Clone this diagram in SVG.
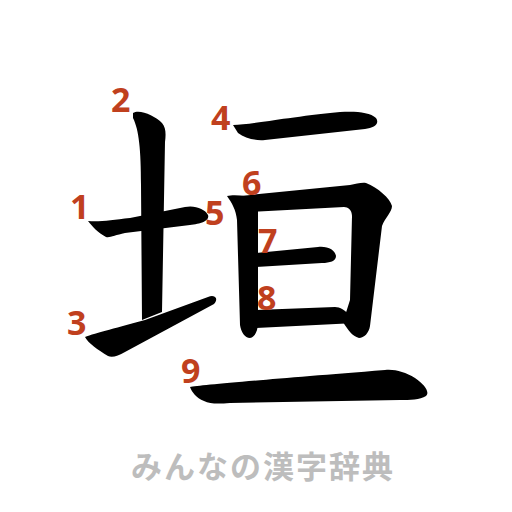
<svg xmlns="http://www.w3.org/2000/svg" width="512" height="512" viewBox="0 0 512 512">
<style>
.s{fill:#000}
.n{font-family:"Noto Sans","Open Sans","DejaVu Sans",sans-serif;font-weight:700;font-size:34px;fill:#c0401e}
.f{font-family:"Noto Sans CJK JP","Noto Sans",sans-serif;font-weight:700;font-size:31px;fill:#bdbdbd;letter-spacing:2px}
</style>
<rect width="512" height="512" fill="#fff"/>
<g id="strokes">
<path id="s1" class="s" d="M88,221 C100,222 112,220 130,218 L185,207 C195,205 205,209 208,215 C210,221 200,224 190,225 L125,233 C115,235 110,238 106,237 C98,233 92,226 88,221 Z"/>
<path id="s2" class="s" d="M133,113 C140,109 155,116 162,123 C166,128 166,134 165,142 L162,312 L142,320 L141,185 C141,150 139,130 133,118 Z"/>
<path id="s3" class="s" d="M85,337 C95,333 120,327 145,320 L208,297 C215,294 219,299 214,304 L125,352 C118,356 112,358 108,356 C98,350 88,343 85,337 Z"/>
<path id="s4" class="s" d="M233,125 C250,125 280,118 340,112 C355,111 370,112 376,118 C380,124 374,128 365,129 L265,140 C255,141 245,138 238,133 Z"/>
<path id="s5" class="s" d="M227,196 C235,194 250,196 258,200 L258,322 C258,331 255,337 250,338 C245,338 241,332 240,325 L237,220 C236,210 232,203 227,196 Z"/>
<path id="s6" class="s" d="M240,196 L350,185 C356,184 362,182 366,183 C378,188 390,198 392,206 C392,212 385,218 382,226 L370,326 C369,333 364,338 359,338 C352,336 348,330 343,322 L350,300 L352,216 C352,210 348,207 344,207 L250,212 Z"/>
<path id="s7" class="s" d="M256,253 L318,247 C328,246 335,250 336,256 C336,261 330,263 322,263 L256,267 Z"/>
<path id="s8" class="s" d="M256,310 L335,307 C340,307 345,310 350,316 L356,323 L256,328 Z"/>
<path id="s9" class="s" d="M190,387 C200,385 260,380 385,370 C395,369 405,372 415,378 C425,385 430,392 426,396 C420,400 410,400 400,400 L230,403 C218,404 210,404 204,401 C196,398 192,392 190,387 Z"/>
</g>
<g id="numbers">
<text class="n" x="70" y="219">1</text>
<text class="n" x="111" y="112">2</text>
<text class="n" x="67" y="335">3</text>
<text class="n" x="211" y="130">4</text>
<text class="n" x="205" y="225">5</text>
<text class="n" x="242" y="195">6</text>
<text class="n" x="258" y="253">7</text>
<text class="n" x="257" y="310">8</text>
<text class="n" x="181" y="383">9</text>
</g>
<text class="f" x="131" y="478">みんなの漢字辞典</text>
</svg>
